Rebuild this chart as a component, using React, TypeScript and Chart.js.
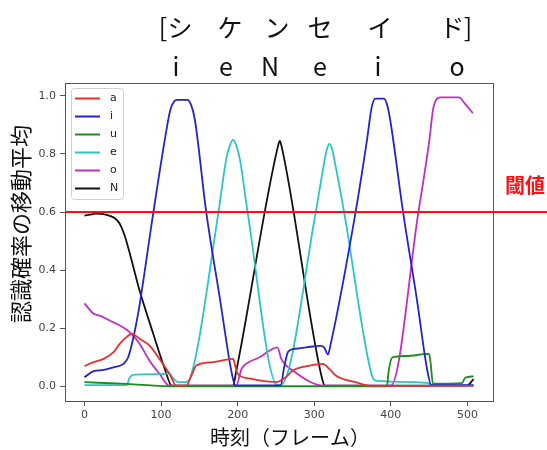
import React, { useEffect, useRef } from "react";
import { Chart, registerables } from "chart.js";

Chart.register(...registerables);

// ---- data ----
const seriesNames = ["a", "i", "u", "e", "o", "N"];

const aFrames = [0, 12, 25, 38, 46, 57, 62, 72, 85, 98, 111, 120, 133, 140, 146, 168, 194, 197, 200, 215, 228, 250, 262, 272, 294, 311, 320, 328, 354, 376, 508];
const aValues = [0.07, 0.084, 0.095, 0.118, 0.147, 0.175, 0.181, 0.164, 0.141, 0.095, 0.044, 0.003, 0.003, 0.04, 0.072, 0.084, 0.095, 0.07, 0.044, 0.028, 0.021, 0.015, 0.03, 0.055, 0.072, 0.078, 0.06, 0.038, 0.015, 0.002, 0.002];

const iFrames = [0, 12, 25, 38, 51, 57, 62, 70, 90, 105, 112, 117, 121, 134, 139, 144, 159, 177, 192, 197, 256, 261, 266, 275, 290, 308, 313, 318, 321, 354, 369, 375, 380, 391, 395, 399, 416, 434, 448, 453, 508];
const iValues = [0.032, 0.053, 0.057, 0.066, 0.078, 0.1, 0.147, 0.25, 0.6, 0.85, 0.95, 0.98, 0.986, 0.986, 0.97, 0.92, 0.6, 0.3, 0.05, 0.004, 0.004, 0.07, 0.12, 0.13, 0.135, 0.14, 0.135, 0.11, 0.14, 0.6, 0.85, 0.96, 0.99, 0.99, 0.97, 0.92, 0.6, 0.3, 0.05, 0.005, 0.005];

const uFrames = [0, 55, 111, 395, 397, 402, 420, 450, 452, 455, 493, 497, 508];
const uValues = [0.015, 0.009, 0.001, 0.001, 0.05, 0.1, 0.105, 0.112, 0.08, 0.01, 0.012, 0.03, 0.035];

const eFrames = [0, 55, 59, 63, 100, 110, 117, 122, 132, 138, 175, 185, 190, 194, 198, 203, 213, 252, 256, 302, 313, 317, 320, 323, 327, 339, 374, 380, 430, 450, 455, 508];
const eValues = [0.005, 0.005, 0.03, 0.04, 0.043, 0.045, 0.025, 0.015, 0.015, 0.03, 0.6, 0.78, 0.83, 0.848, 0.83, 0.78, 0.6, 0.005, 0.005, 0.6, 0.77, 0.82, 0.834, 0.82, 0.77, 0.6, 0.05, 0.02, 0.015, 0.01, 0.003, 0.003];

const oFrames = [0, 12, 20, 33, 46, 59, 72, 85, 98, 111, 198, 205, 211, 228, 252, 257, 272, 313, 400, 436, 450, 455, 459, 465, 489, 497, 507];
const oValues = [0.286, 0.25, 0.244, 0.227, 0.21, 0.187, 0.147, 0.089, 0.044, 0.003, 0.003, 0.06, 0.078, 0.1, 0.135, 0.095, 0.055, 0.003, 0.003, 0.6, 0.84, 0.95, 0.985, 0.994, 0.994, 0.972, 0.94];

const nFrames = [0, 10, 15, 25, 35, 40, 44, 48, 53, 60, 72, 90, 105, 114, 194, 198, 253, 255, 257, 310, 314, 500, 503, 508];
const nValues = [0.588, 0.592, 0.595, 0.593, 0.585, 0.578, 0.568, 0.55, 0.515, 0.45, 0.33, 0.18, 0.06, 0.003, 0.003, 0.05, 0.83, 0.845, 0.83, 0.03, 0.003, 0.003, 0.01, 0.026];

const xTicks = [0, 100, 200, 300, 400, 500];
const yTicks = [0.0, 0.2, 0.4, 0.6, 0.8, 1.0];
const threshold = 0.6;

const titleKana = ["[", "シ", "ケ", "ン", "セ", "イ", "ド", "]"];
const titlePhonemes = ["i", "e", "N", "e", "i", "o"];
const thresholdLabel = "閾値";
const xTitle = "時刻（フレーム）";
const yTitle = "認識確率の移動平均";

// ---- styles ----
const colors = ["#e53030", "#2424c8", "#1e8c1e", "#2cc4c4", "#c030c0", "#111111"];
const kanaX = [163, 180, 230, 277, 320, 380, 452, 468];
const phonemeX = [176, 226, 270, 320, 378, 457];
const frameColor = "#555555";

const zip = (xs: number[], ys: number[]) => xs.map((x, k) => ({ x, y: ys[k] }));

export default function App() {
  const ref = useRef<HTMLCanvasElement | null>(null);

  useEffect(() => {
    if (!ref.current) return;
    const frames = [aFrames, iFrames, uFrames, eFrames, oFrames, nFrames];
    const values = [aValues, iValues, uValues, eValues, oValues, nValues];

    const decor = {
      id: "decor",
      beforeDraw(chart: any) {
        const { ctx, width, height } = chart;
        ctx.save();
        ctx.fillStyle = "#ffffff";
        ctx.fillRect(0, 0, width, height);
        ctx.restore();
      },
      afterDatasetsDraw(chart: any) {
        const { ctx, chartArea } = chart;
        const ys = chart.scales.y;
        const { left, right, top, bottom } = chartArea;
        ctx.save();
        // frame
        ctx.strokeStyle = frameColor;
        ctx.lineWidth = 1;
        ctx.strokeRect(Math.round(left) + 0.5, Math.round(top) + 0.5, Math.round(right - left), Math.round(bottom - top));
        // threshold line
        const ty = ys.getPixelForValue(threshold);
        ctx.strokeStyle = "#ff1010";
        ctx.lineWidth = 2;
        ctx.beginPath();
        ctx.moveTo(left, ty);
        ctx.lineTo(chart.width, ty);
        ctx.stroke();
        // legend
        const lx = 71, ly = 88, lw = 52, lh = 111;
        ctx.fillStyle = "rgba(255,255,255,0.9)";
        ctx.strokeStyle = "#d0d0d0";
        ctx.lineWidth = 1;
        ctx.beginPath();
        (ctx as any).roundRect(lx + 0.5, ly + 0.5, lw, lh, 3);
        ctx.fill();
        ctx.stroke();
        ctx.font = "11px 'DejaVu Sans'";
        ctx.textBaseline = "middle";
        ctx.textAlign = "left";
        chart.data.datasets.forEach((ds: any, k: number) => {
          const yy = 98.5 + k * 18;
          ctx.strokeStyle = ds.borderColor;
          ctx.lineWidth = 2;
          ctx.beginPath();
          ctx.moveTo(75, yy);
          ctx.lineTo(100, yy);
          ctx.stroke();
          ctx.fillStyle = "#222";
          ctx.fillText(ds.label, 110, yy);
        });
        ctx.restore();
      },
      afterDraw(chart: any) {
        const { ctx } = chart;
        ctx.save();
        ctx.fillStyle = "#111";
        ctx.textAlign = "center";
        ctx.textBaseline = "middle";
        ctx.font = "25px 'Noto Sans CJK JP'";
        titleKana.forEach((t, k) => ctx.fillText(t, kanaX[k], 27));
        titlePhonemes.forEach((t, k) => ctx.fillText(t, phonemeX[k], 66));
        // axis titles
        ctx.font = "20px 'Noto Sans CJK JP'";
        ctx.fillText(xTitle, 290, 437);
        ctx.save();
        ctx.translate(21, 224);
        ctx.rotate(-Math.PI / 2);
        ctx.font = "22px 'Noto Sans CJK JP'";
        ctx.fillText(yTitle, 0, 0);
        ctx.restore();
        // threshold label
        ctx.fillStyle = "#ff1010";
        ctx.font = "bold 20px 'Noto Sans CJK JP'";
        ctx.fillText(thresholdLabel, 525, 185);
        ctx.restore();
      },
    };

    const chart = new Chart(ref.current, {
      type: "line",
      data: {
        datasets: seriesNames.map((name, k) => ({
          label: name,
          data: zip(frames[k], values[k]),
          borderColor: colors[k],
          backgroundColor: colors[k],
          borderWidth: 1.8,
          pointRadius: 0,
          cubicInterpolationMode: "monotone" as const,
          fill: false,
        })),
      },
      options: {
        responsive: false,
        animation: false,
        devicePixelRatio: 1,
        layout: { padding: { top: 83, right: 54, left: 0, bottom: 0 } },
        plugins: { legend: { display: false }, tooltip: { enabled: false }, title: { display: false } },
        scales: {
          x: {
            type: "linear",
            min: -25.4,
            max: 533.4,
            afterFit: (s: any) => { s.height = 49; },
            afterBuildTicks: (s: any) => { s.ticks = xTicks.map((v) => ({ value: v })); },
            border: { display: false },
            grid: { display: true, drawOnChartArea: false, drawTicks: true, tickLength: 5, color: frameColor },
            ticks: {
              color: "#444",
              font: { family: "DejaVu Sans", size: 11 },
              padding: 3,
              maxRotation: 0,
              callback: (v: any) => String(v),
            },
          },
          y: {
            type: "linear",
            min: -0.0497,
            max: 1.0437,
            afterFit: (s: any) => { s.width = 65; },
            afterBuildTicks: (s: any) => { s.ticks = yTicks.map((v) => ({ value: v })); },
            border: { display: false },
            grid: { display: true, drawOnChartArea: false, drawTicks: true, tickLength: 5, color: frameColor },
            ticks: {
              color: "#444",
              font: { family: "DejaVu Sans", size: 11 },
              padding: 4,
              callback: (v: any) => Number(v).toFixed(1),
            },
          },
        },
      },
      plugins: [decor],
    });
    return () => chart.destroy();
  }, []);

  return (
    <div style={{ position: "absolute", left: 0, top: 0, width: 547, height: 450 }}>
      <canvas ref={ref} width={547} height={450} style={{ width: 547, height: 450 }} />
    </div>
  );
}
